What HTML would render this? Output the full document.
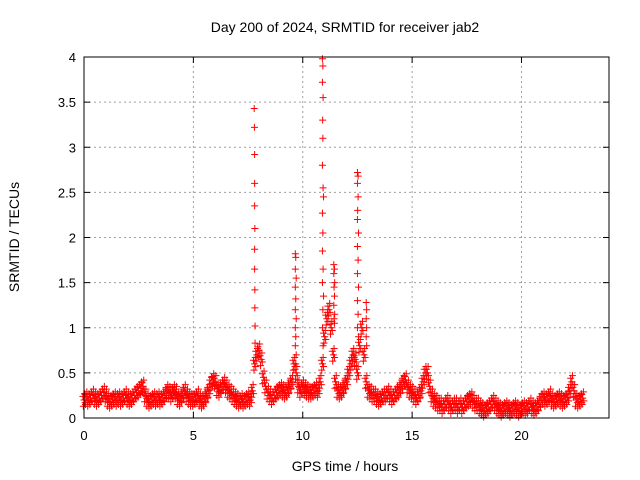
<!DOCTYPE html>
<html><head><meta charset="utf-8"><style>
body{margin:0;background:#fff}
svg{display:block;font-family:"Liberation Sans",sans-serif}
</style></head><body>
<svg id="chart" width="640" height="480" viewBox="0 0 640 480" xmlns="http://www.w3.org/2000/svg">
<rect width="640" height="480" fill="#fff"/>
<text x="345" y="32" font-size="14" text-anchor="middle">Day 200 of 2024, SRMTID for receiver jab2</text>
<text transform="translate(19,237) rotate(-90)" font-size="14" text-anchor="middle">SRMTID / TECUs</text>
<text x="345" y="471" font-size="14" text-anchor="middle">GPS time / hours</text>
<g id="grid"></g>
<g id="ticks"></g>
<g id="pts"></g>
<rect x="84" y="57" width="525" height="361" fill="none" stroke="#000" stroke-width="1"/>
</svg>
<script>
const xTicks=[0,5,10,15,20];
const yTicks=[0,0.5,1,1.5,2,2.5,3,3.5,4];
const yTickLabels=["0","0.5","1","1.5","2","2.5","3","3.5","4"];
const baseStart=0, baseStep=0.1;
const baseline=[0.2,0.22,0.2,0.22,0.25,0.22,0.2,0.22,0.25,0.28,
0.25,0.2,0.18,0.2,0.22,0.2,0.22,0.2,0.22,0.25,
0.22,0.2,0.22,0.25,0.28,0.3,0.33,0.35,0.25,0.2,
0.18,0.2,0.22,0.2,0.22,0.2,0.22,0.25,0.3,0.28,
0.25,0.3,0.28,0.22,0.2,0.25,0.3,0.25,0.22,0.2,
0.2,0.22,0.25,0.2,0.18,0.2,0.25,0.3,0.38,0.42,
0.4,0.32,0.3,0.35,0.38,0.35,0.3,0.28,0.25,0.22,
0.2,0.18,0.2,0.18,0.2,0.22,0.2,0.3,0.6,0.7,
0.75,0.65,0.45,0.35,0.28,0.25,0.22,0.25,0.28,0.3,
0.32,0.3,0.28,0.3,0.35,0.4,0.6,0.5,0.35,0.3,
0.35,0.32,0.3,0.28,0.28,0.3,0.32,0.3,0.4,0.6,
0.9,1.1,1.2,1.0,0.7,0.4,0.3,0.28,0.3,0.35,
0.4,0.5,0.6,0.7,0.65,0.5,0.8,1.0,0.7,0.4,
0.3,0.28,0.25,0.25,0.22,0.2,0.22,0.25,0.25,0.28,
0.25,0.22,0.25,0.28,0.3,0.35,0.4,0.42,0.35,0.3,
0.28,0.25,0.22,0.25,0.3,0.4,0.5,0.5,0.35,0.25,
0.2,0.18,0.15,0.15,0.12,0.15,0.18,0.15,0.12,0.15,
0.15,0.12,0.15,0.12,0.15,0.18,0.2,0.22,0.18,0.15,
0.15,0.12,0.1,0.08,0.1,0.12,0.15,0.18,0.15,0.12,
0.1,0.08,0.1,0.12,0.1,0.08,0.1,0.12,0.1,0.08,
0.1,0.12,0.1,0.12,0.15,0.12,0.1,0.12,0.15,0.2,
0.22,0.2,0.22,0.25,0.2,0.18,0.2,0.22,0.2,0.18,
0.2,0.22,0.3,0.4,0.3,0.2,0.18,0.2,0.22];
const spikeT=[7.78,7.79,7.8,7.8,7.8,7.81,7.8,7.8,7.81,7.81,7.82,7.82,
9.66,9.68,9.66,9.7,9.66,9.68,9.66,9.7,9.66,9.68,9.66,9.7,9.68,
10.9,10.92,10.9,10.93,10.91,10.92,10.9,10.93,10.95,10.9,10.92,10.9,10.93,10.9,10.95,10.92,10.9,10.93,
11.42,11.45,11.42,11.46,11.43,11.45,11.42,11.46,11.43,11.45,
12.5,12.53,12.5,12.53,12.51,12.5,12.55,12.5,12.53,12.5,12.55,12.5,12.53,12.5,12.55,
12.9,12.92,12.9,12.92,12.9,12.92];
const spikeV=[3.43,3.22,2.92,2.6,2.35,2.1,1.87,1.65,1.42,1.22,1.02,0.83,
1.82,1.78,1.65,1.55,1.45,1.32,1.2,1.1,1.0,0.9,0.8,0.7,0.6,
3.98,3.9,3.72,3.55,3.3,3.1,2.8,2.55,2.45,2.27,2.05,1.85,1.65,1.5,1.35,1.2,1.0,0.8,
1.7,1.65,1.6,1.5,1.45,1.35,1.25,1.15,1.1,1.05,
2.72,2.68,2.6,2.45,2.3,2.2,2.05,1.9,1.75,1.6,1.45,1.3,1.15,1.0,0.9,
1.28,1.2,1.1,1.0,0.9,0.8];
const X0=84,X1=609,Y0=418,Y1=57,XMAX=24,YMAX=4;
function xs(t){return X0+(X1-X0)*t/XMAX;}
function ys(v){return Y0-(Y0-Y1)*v/YMAX;}
const NS="http://www.w3.org/2000/svg";
const grid=document.getElementById('grid'),ticks=document.getElementById('ticks'),pts=document.getElementById('pts');
function mk(tag,attrs,parent){const e=document.createElementNS(NS,tag);for(const k in attrs)e.setAttribute(k,attrs[k]);parent.appendChild(e);return e;}
yTicks.forEach((v,i)=>{
  const y=ys(v);
  if(i>0&&i<yTicks.length-1){const g=mk('line',{x1:X0,x2:X1,y1:y,y2:y,stroke:'#a0a0a0','stroke-dasharray':'2,3'},grid);
  
  }
  const t=mk('text',{x:X0-8,y:y+5,'font-size':13,'text-anchor':'end'},ticks);t.textContent=yTickLabels[i];
  
  
  mk('line',{x1:X0,x2:X0+6,y1:y,y2:y,stroke:'#000'},ticks);
  mk('line',{x1:X1,x2:X1-6,y1:y,y2:y,stroke:'#000'},ticks);
});
xTicks.forEach((v,i)=>{
  const x=xs(v);
  if(i>0){const g=mk('line',{x1:x,x2:x,y1:Y0,y2:Y1,stroke:'#a0a0a0','stroke-dasharray':'2,3'},grid);
  
  }
  const t=mk('text',{x:x,y:Y0+22,'font-size':13,'text-anchor':'middle'},ticks);t.textContent=String(v);
  
  
  mk('line',{x1:x,x2:x,y1:Y0,y2:Y0-6,stroke:'#000'},ticks);
  mk('line',{x1:x,x2:x,y1:Y1,y2:Y1+6,stroke:'#000'},ticks);
});
function plus(t,v,name){
  const x=xs(t),y=ys(v);
  const p=mk('path',{d:`M${x-3.5} ${y}h7M${x} ${y-3.5}v7`,stroke:'#ff0000','stroke-width':1,fill:'none'},pts);
  
  
}
const offs=[[-0.03,-0.07],[0,0],[0.03,0.07],[0.05,-0.03],[-0.05,0.04]];
baseline.forEach((v,i)=>{
  const t=baseStart+i*baseStep;
  offs.forEach(o=>plus(t+o[0],Math.max(0.01,v+o[1]),'baseline-point'));
});
spikeT.forEach((t,i)=>plus(t,spikeV[i],'spike-point'));
</script>
</body></html>
